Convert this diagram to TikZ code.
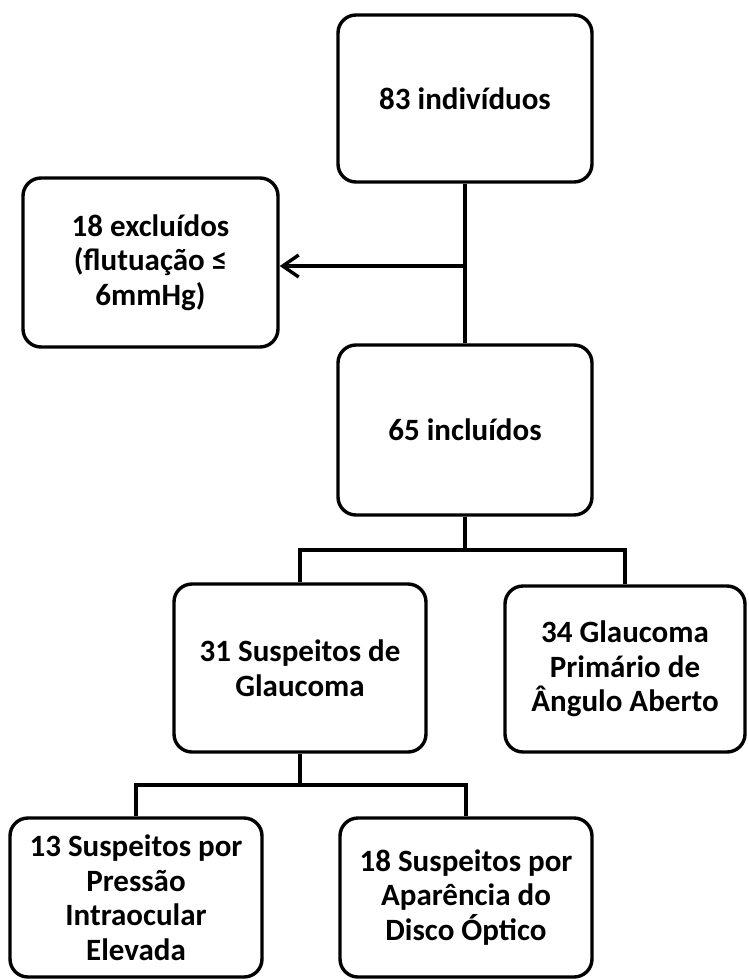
\documentclass[tikz,border=0pt]{standalone}
\usepackage{fontspec}
\setmainfont{Carlito}
\usetikzlibrary{arrows.meta}
\tikzset{
  box/.style={draw=black, line width=3.4pt, rounded corners=18pt, fill=white,
    align=center, inner sep=4pt, text=black,
    font=\fontsize{31}{34.5}\selectfont\bfseries},
  conn/.style={draw=black, line width=3.4pt, line join=miter},
}
\begin{document}
\begin{tikzpicture}[x=1pt,y=-1pt]
\useasboundingbox (0,0) rectangle (748,980);
% nodes
\node[box, minimum width=254pt, minimum height=167pt] (a) at (465,98.5) {83 indivíduos};
\node[box, minimum width=255pt, minimum height=169pt] (b) at (150.5,262.5) {18 excluídos\\(flutuação ≤\\6mmHg)};
\node[box, minimum width=254pt, minimum height=170pt] (c) at (465,430) {65 incluídos};
\node[box, minimum width=252pt, minimum height=168pt] (d) at (300,668) {31 Suspeitos de\\Glaucoma};
\node[box, minimum width=240pt, minimum height=166pt] (e) at (625,669) {34 Glaucoma\\Primário de\\Ângulo Aberto};
\node[box, minimum width=252pt, minimum height=159pt] (f) at (136,897.5) {13 Suspeitos por\\Pressão\\Intraocular\\Elevada};
\node[box, minimum width=252pt, minimum height=159pt] (g) at (466,897.5) {18 Suspeitos por\\Aparência do\\Disco Óptico};
% helper coordinates
\coordinate (j) at (465,266);
\coordinate (bar1) at (465,550);
\coordinate (bar2) at (300,785);
% connectors
\draw[conn] (a) -- (c);
\draw[conn, -{Straight Barb[length=16pt,width=22pt]}] (j) -- (j -| b.east);
\draw[conn] (c.south) -- (bar1);
\draw[conn] (d.north) |- (bar1) -| (e.north);
\draw[conn] (d.south) -- (bar2);
\draw[conn] (f.north) |- (bar2) -| (g.north);
\end{tikzpicture}
\end{document}
